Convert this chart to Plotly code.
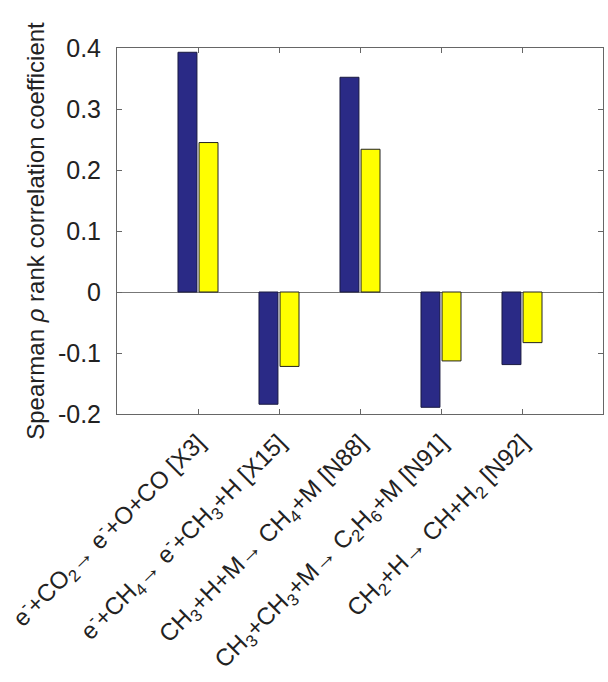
import plotly.graph_objects as go

categories = [1, 2, 3, 4, 5]
tick_labels = [
    "e<sup>-</sup>+CO<sub>2</sub>→ e<sup>-</sup>+O+CO [X3]",
    "e<sup>-</sup>+CH<sub>4</sub>→ e<sup>-</sup>+CH<sub>3</sub>+H [X15]",
    "CH<sub>3</sub>+H+M→ CH<sub>4</sub>+M [N88]",
    "CH<sub>3</sub>+CH<sub>3</sub>+M→ C<sub>2</sub>H<sub>6</sub>+M [N91]",
    "CH<sub>2</sub>+H→ CH+H<sub>2</sub> [N92]",
]
series_a = [0.393, -0.184, 0.352, -0.189, -0.119]
series_b = [0.245, -0.122, 0.234, -0.113, -0.083]

font_family = "Liberation Sans, Arial, sans-serif"

fig = go.Figure()
fig.add_trace(go.Bar(x=categories, y=series_a, marker=dict(color="#2a2a86", line=dict(color="#1a1a40", width=1)), showlegend=False))
fig.add_trace(go.Bar(x=categories, y=series_b, marker=dict(color="#ffff00", line=dict(color="#222222", width=1)), showlegend=False))

fig.update_layout(
    width=608, height=682,
    margin=dict(l=117, r=5, t=48, b=268),
    paper_bgcolor="white", plot_bgcolor="white",
    barmode="group", bargap=0.48, bargroupgap=0.1,
    font=dict(family=font_family, color="#222222"),
)
fig.update_xaxes(
    range=[0, 6], tickmode="array", tickvals=categories, ticktext=tick_labels,
    tickangle=-45, tickfont=dict(size=24), ticklabelstandoff=4, automargin=False,
    showgrid=False, zeroline=False,
    showline=True, linecolor="#666666", linewidth=1, mirror="ticks",
    ticks="inside", ticklen=5, tickcolor="#666666",
)
fig.update_yaxes(
    range=[-0.2, 0.4], tickmode="array",
    tickvals=[-0.2, -0.1, 0, 0.1, 0.2, 0.3, 0.4],
    ticktext=["-0.2", "-0.1", "0", "0.1", "0.2", "0.3", "0.4"],
    tickfont=dict(size=25), ticklabelstandoff=10, automargin=False,
    title=dict(text="Spearman <i>ρ</i> rank correlation coefficient", font=dict(size=24), standoff=6),
    showgrid=False, zeroline=True, zerolinecolor="#777777", zerolinewidth=1,
    showline=True, linecolor="#666666", linewidth=1, mirror="ticks",
    ticks="inside", ticklen=5, tickcolor="#666666",
)

fig.write_html("out.html")
